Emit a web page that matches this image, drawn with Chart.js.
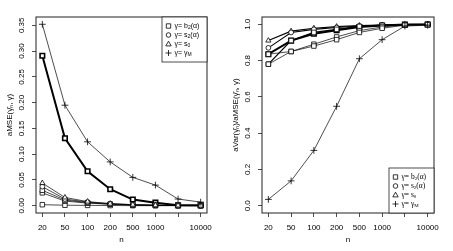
<!DOCTYPE html>
<html>
<head>
<meta charset="utf-8">
<script src="https://cdn.jsdelivr.net/npm/chart.js@4.4.1/dist/chart.umd.min.js"></script>
<style>
  html, body { margin: 0; padding: 0; background: #fff; }
  #wrap { display: flex; width: 453px; height: 251px; }
  canvas { display: block; }
</style>
</head>
<body>
<div id="wrap">
  <canvas id="mse" width="226" height="251"></canvas>
  <canvas id="ratio" width="227" height="251"></canvas>
</div>
<script>
// sample sizes (equally spaced on the axis)
const nValues = [20, 50, 100, 200, 500, 1000, 5000, 10000]
const nTickLabels = ['20', '50', '100', '200', '500', '1000', '', '10000']

// left panel: aMSE
const mseB2Thick = [0.291, 0.131, 0.067, 0.032, 0.012, 0.006, 0.001, 0.001]
const mseB2A = [0.030, 0.011, 0.006, 0.003, 0.0015, 0.0008, 0.0003, 0.0002]
const mseB2B = [0.025, 0.009, 0.005, 0.003, 0.0012, 0.0007, 0.0003, 0.0002]
const mseB2C = [0.002, 0.001, 0.0007, 0.0004, 0.0002, 0.0001, 0.0001, 0.0001]
const mseS2 = [0.037, 0.013, 0.007, 0.004, 0.002, 0.001, 0.0004, 0.0002]
const mseS0 = [0.044, 0.016, 0.008, 0.004, 0.002, 0.001, 0.0005, 0.0003]
const mseGM = [0.352, 0.195, 0.124, 0.085, 0.055, 0.040, 0.013, 0.007]
const mseTicks = [0, 0.05, 0.10, 0.15, 0.20, 0.25, 0.30, 0.35]

// right panel: aVar / aMSE
const ratB2Thick = [0.835, 0.910, 0.948, 0.967, 0.985, 0.993, 0.998, 0.999]
const ratB2A = [0.835, 0.850, 0.880, 0.915, 0.955, 0.978, 0.995, 0.998]
const ratB2B = [0.780, 0.850, 0.890, 0.930, 0.965, 0.985, 0.997, 0.999]
const ratB2C = [0.780, 0.910, 0.955, 0.972, 0.988, 0.994, 0.998, 0.999]
const ratS2 = [0.870, 0.955, 0.972, 0.982, 0.990, 0.995, 0.998, 0.999]
const ratS0 = [0.910, 0.962, 0.978, 0.987, 0.993, 0.996, 0.999, 0.999]
const ratGM = [0.035, 0.137, 0.305, 0.548, 0.810, 0.915, 0.990, 0.995]
const ratTicks = [0, 0.2, 0.4, 0.6, 0.8, 1.0]

// legend text: [text, isSubscript]
const legendRows = [
  { sym: 'square', parts: [['γ= b', 0], ['2', 1], ['(α)', 0]] },
  { sym: 'circle', parts: [['γ= s', 0], ['2', 1], ['(α)', 0]] },
  { sym: 'triangle', parts: [['γ= s', 0], ['0', 1]] },
  { sym: 'plus', parts: [['γ= γ', 0], ['M', 1]] },
]

const FONT = '"Liberation Sans", Arial, sans-serif'

const toPoints = (vals) => vals.map((v, i) => ({ x: i + 1, y: v }))

// lw: line width of the series
const series = (vals, sym, lw) => {
  const styles = { square: 'rect', circle: 'circle', triangle: 'triangle', plus: 'cross' }
  const radius = { square: 3.2, circle: 2.4, triangle: 3, plus: 3.4 }
  return {
    data: toPoints(vals),
    borderColor: '#000',
    borderWidth: lw,
    pointStyle: styles[sym],
    pointRadius: radius[sym],
    pointBorderWidth: lw > 1.5 ? 1.6 : 0.8,
    pointBorderColor: '#000',
    pointBackgroundColor: '#fff',
    pointHoverRadius: radius[sym],
    tension: 0,
    fill: false,
  }
}

const drawSymbol = (ctx, sym, x, y) => {
  ctx.beginPath()
  if (sym === 'square') {
    ctx.rect(x - 2.2, y - 2.2, 4.4, 4.4)
  } else if (sym === 'circle') {
    ctx.arc(x, y, 2.3, 0, Math.PI * 2)
  } else if (sym === 'triangle') {
    ctx.moveTo(x, y - 2.8)
    ctx.lineTo(x + 2.7, y + 1.9)
    ctx.lineTo(x - 2.7, y + 1.9)
    ctx.closePath()
  } else {
    ctx.moveTo(x - 3, y); ctx.lineTo(x + 3, y)
    ctx.moveTo(x, y - 3); ctx.lineTo(x, y + 3)
  }
  ctx.stroke()
}

const framePlugin = {
  id: 'frame',
  afterDraw(chart, args, opts) {
    const { ctx, chartArea: a } = chart
    ctx.save()
    // plot box
    ctx.strokeStyle = '#222'
    ctx.lineWidth = 1
    ctx.strokeRect(a.left, a.top, a.right - a.left, a.bottom - a.top)

    // y tick labels, written along the axis
    const ys = chart.scales.y
    ctx.fillStyle = '#000'
    ctx.font = '8px ' + FONT
    ctx.textAlign = 'center'
    ctx.textBaseline = 'middle'
    ys.ticks.forEach(t => {
      const py = ys.getPixelForValue(t.value)
      ctx.save()
      ctx.translate(opts.yLabelX, py)
      ctx.rotate(-Math.PI / 2)
      ctx.fillText(t.value.toFixed(opts.decimals), 0, 0)
      ctx.restore()
    })

    // legend
    const w = opts.legendW, h = opts.legendH
    const lx = a.right - w
    const ly = opts.legendPos === 'top' ? a.top : a.bottom - h
    ctx.fillStyle = '#fff'
    ctx.fillRect(lx, ly, w, h)
    ctx.strokeStyle = '#222'
    ctx.lineWidth = 0.8
    ctx.strokeRect(lx, ly, w, h)
    ctx.textAlign = 'left'
    legendRows.forEach((row, i) => {
      const ry = ly + 9 + i * 9
      ctx.strokeStyle = '#000'
      ctx.lineWidth = 0.8
      drawSymbol(ctx, row.sym, lx + 6.5, ry)
      let tx = lx + 12.5
      row.parts.forEach(([txt, sub]) => {
        ctx.font = (sub ? '5px ' : opts.legendSize + 'px ') + opts.legendFont
        ctx.fillStyle = '#000'
        ctx.fillText(txt, tx, ry + (sub ? 2 : 0))
        tx += ctx.measureText(txt).width
      })
    })
    ctx.restore()
  }
}

const makeChart = (id, datasets, yMin, yMax, yTicks, decimals, yTitle, legendPos, legendFont, legendSize) => {
  new Chart(document.getElementById(id), {
    type: 'line',
    data: { datasets },
    plugins: [framePlugin],
    options: {
      responsive: false,
      animation: false,
      events: [],
      layout: { padding: { left: 0, right: 19, top: 17, bottom: 0 } },
      plugins: {
        legend: { display: false },
        tooltip: { enabled: false },
        frame: { yLabelX: 22, decimals, legendPos, legendFont, legendSize, legendW: 45, legendH: 45 },
      },
      scales: {
        x: {
          type: 'linear',
          min: 0.72,
          max: 8.28,
          afterBuildTicks: (scale) => {
            scale.ticks = nValues.map((v, i) => ({ value: i + 1 }))
          },
          afterFit: (scale) => { scale.height = 38 },
          ticks: {
            autoSkip: false,
            maxRotation: 0,
            padding: 6,
            color: '#000',
            font: { size: 8, family: FONT },
            callback: (value, index) => nTickLabels[index],
          },
          grid: { drawOnChartArea: false, tickLength: 4, color: '#222', lineWidth: 0.8 },
          border: { display: false },
          title: {
            display: true,
            text: 'n',
            color: '#000',
            font: { size: 8, family: FONT },
            padding: { top: 0, bottom: 6 },
          },
        },
        y: {
          type: 'linear',
          min: yMin,
          max: yMax,
          afterBuildTicks: (scale) => {
            scale.ticks = yTicks.map(v => ({ value: v }))
          },
          afterFit: (scale) => { scale.width = 36 },
          ticks: { display: false },
          grid: { drawOnChartArea: false, tickLength: 4, color: '#222', lineWidth: 0.8 },
          border: { display: false },
          title: {
            display: true,
            text: yTitle,
            color: '#000',
            font: { size: 8, family: FONT },
            padding: { top: 5, bottom: 0 },
          },
        },
      },
    },
  })
}

makeChart('mse', [
  series(mseGM, 'plus', 0.7),
  series(mseS0, 'triangle', 0.7),
  series(mseS2, 'circle', 0.7),
  series(mseB2A, 'square', 0.7),
  series(mseB2B, 'square', 0.7),
  series(mseB2C, 'square', 0.7),
  series(mseB2Thick, 'square', 2),
], -0.0141, 0.3661, mseTicks, 2, 'aMSE(γ̂ₙ, γ)', 'top', FONT, 7)

makeChart('ratio', [
  series(ratGM, 'plus', 0.7),
  series(ratB2A, 'square', 0.7),
  series(ratB2B, 'square', 0.7),
  series(ratB2C, 'square', 1.2),
  series(ratS2, 'circle', 1.1),
  series(ratS0, 'triangle', 1.1),
  series(ratB2Thick, 'square', 2),
], -0.04, 1.04, ratTicks, 1, 'aVar(γ̂ₙ)/aMSE(γ̂ₙ, γ)', 'bottom', '"Liberation Serif", "Times New Roman", serif', 7.5)
</script>
</body>
</html>
